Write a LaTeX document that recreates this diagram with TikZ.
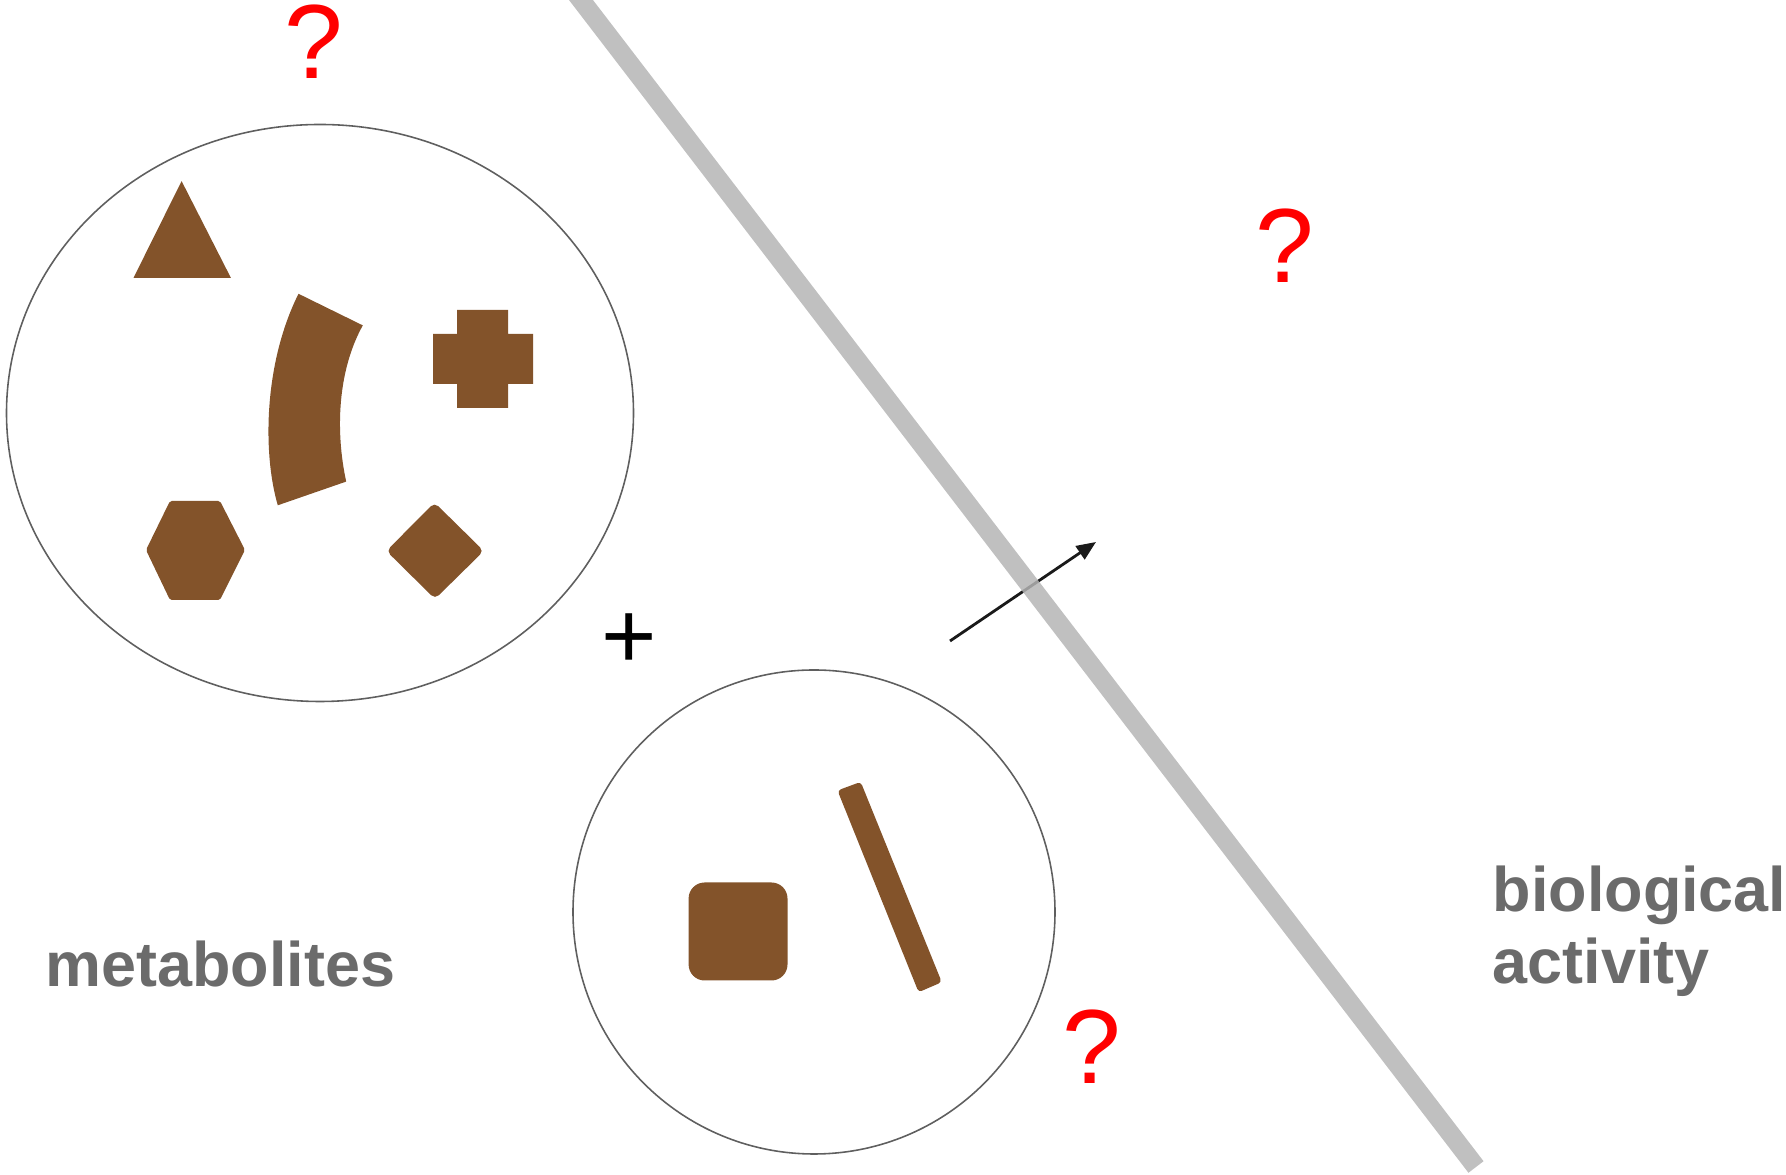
\documentclass[tikz,border=0pt]{standalone}
\usepackage{fontspec}
\newfontfamily\labelfont{Liberation Sans}
\usetikzlibrary{arrows.meta}
\definecolor{ink}{HTML}{1A1A1A}
\definecolor{umber}{HTML}{83532A}
\definecolor{rail}{HTML}{B4B4B4}
\definecolor{slate}{HTML}{6B6B6B}
\definecolor{alert}{HTML}{FF0000}

\begin{document}
\begin{tikzpicture}[x=1cm,y=1cm,
    pool/.style={draw=ink!70,line width=0.45pt},
    mol/.style={fill=umber},
    qmark/.style={alert,inner sep=0pt,font=\labelfont\fontsize{30}{36}\selectfont},
    lbl/.style={slate,inner sep=0pt,anchor=base west,
                font=\labelfont\bfseries\fontsize{17.9}{20}\selectfont}]
  \useasboundingbox (0,0) rectangle (17.86,11.75);
  \clip (0,0) rectangle (17.86,11.75);
  % the two pools of metabolites
  \draw[pool] (3.20,7.62) ellipse [x radius=3.135,y radius=2.885];
  \draw[pool] (8.14,2.63) ellipse [x radius=2.41,y radius=2.42];
  % mixture
  \fill[mol] (1.816,9.939) -- (2.309,8.971) -- (1.335,8.971) -- cycle;
  \fill[mol] (2.985,8.812) .. controls (2.63,8.1) and (2.63,7.2) .. (2.778,6.697)
     -- (3.462,6.934) .. controls (3.35,7.45) and (3.38,8.05) .. (3.628,8.496) -- cycle;
  \fill[mol] (4.33,7.91) rectangle (5.33,8.41) (4.57,7.67) rectangle (5.08,8.65);
  \fill[mol,rounded corners=0.5pt] (1.46,6.25) -- (1.70,6.74) -- (2.20,6.74) -- (2.45,6.25)
     -- (2.20,5.75) -- (1.70,5.75) -- cycle;
  \fill[mol,rounded corners=1.5pt] (3.864,6.24) -- (4.345,6.725) -- (4.838,6.24)
     -- (4.35,5.76) -- cycle;
  % pair
  \fill[mol,rounded corners=0.16cm] (6.886,1.945) rectangle (7.875,2.925);
  \fill[mol,rounded corners=1pt] (8.375,3.845) -- (8.607,3.931) -- (9.418,1.928)
     -- (9.186,1.828) -- cycle;
  \node[inner sep=0pt] (plus) at (6.29,5.34) {\labelfont\fontsize{27}{32}\selectfont +};
  % crossing the threshold
  \coordinate (src) at (9.50,5.34);
  \coordinate (dst) at (10.96,6.33);
  \draw[ink,line width=0.8pt,-{Triangle[length=5.5pt,width=4.5pt]}] (src) -- (dst);
  \draw[rail,opacity=0.84,line width=0.19cm] (5.749,11.829) -- (14.76,0.08);
  \node[qmark] (q1) at (3.14,11.33) {?};
  \node[qmark] (q2) at (12.85,9.29) {?};
  \node[qmark] (q3) at (10.92,1.28) {?};
  \node[lbl] (met) at (0.45,1.88) {metabolites};
  \node[lbl] (bio) at (14.92,2.63) {biological};
  \node[lbl] (act) at (14.92,1.91) {activity};
\end{tikzpicture}
\end{document}
